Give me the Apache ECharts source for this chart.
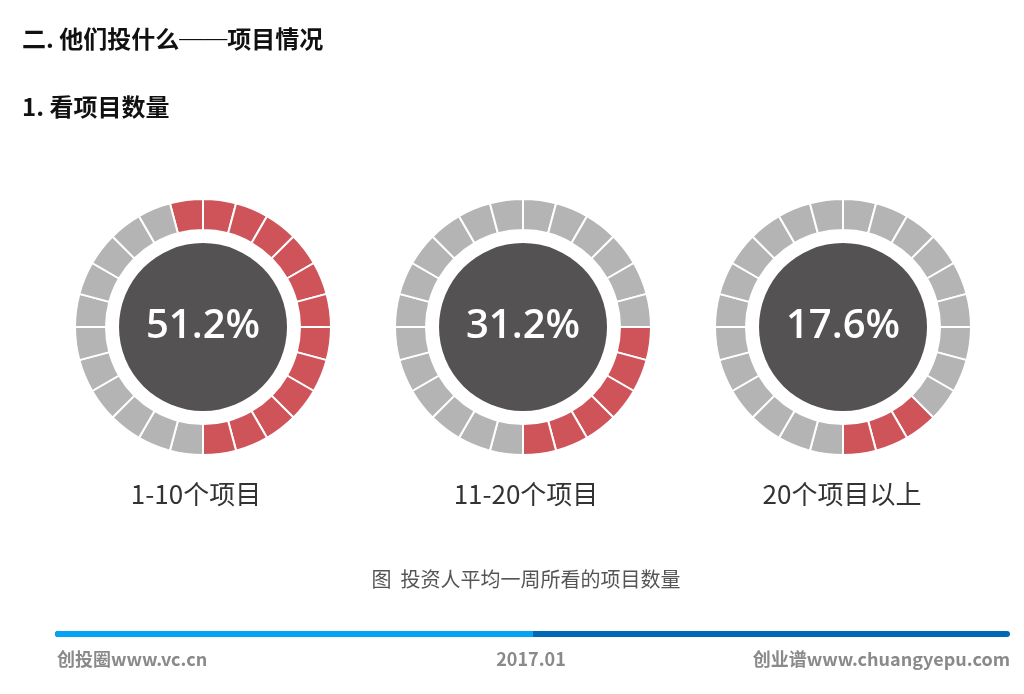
<!DOCTYPE html>
<html lang="zh">
<head>
  <meta charset="UTF-8">
  <title>看项目数量</title>
  <script src="https://cdn.jsdelivr.net/npm/echarts@6/dist/echarts.min.js"></script>
  <style>
    * { margin: 0; padding: 0; }
    body { background: #fff; }
    #main { width: 1024px; height: 694px; }
  </style>
</head>
<body>
  <div id="main"></div>
  <script>
    // 数据
    var categories = ['1-10个项目', '11-20个项目', '20个项目以上'];
    var percents = ['51.2%', '31.2%', '17.6%'];
    var redSegments = [13, 6, 3];   // 红色格子数
    var totalSegments = 24;         // 每个圆环的格子数

    // 布局
    var centersX = [203, 523, 843];
    var labelX = [191, 521, 837];

    var chart = echarts.init(document.getElementById('main'));
    var series = [];

    categories.forEach(function (name, i) {
      var ring = [];
      for (var k = 0; k < totalSegments; k++) {
        ring.push({
          value: 1,
          itemStyle: { color: k < redSegments[i] ? '#cf545a' : '#b4b4b4' }
        });
      }
      // 外圈格子，红色部分顺时针结束于正下方
      series.push({
        type: 'pie',
        silent: true,
        center: [centersX[i], 327],
        radius: [97, 128],
        startAngle: -90 + redSegments[i] * 360 / totalSegments,
        clockwise: true,
        label: { show: false },
        labelLine: { show: false },
        itemStyle: { borderColor: '#fff', borderWidth: 2 },
        data: ring
      });
      // 中间深色圆 + 百分比
      series.push({
        type: 'pie',
        silent: true,
        center: [centersX[i], 327],
        radius: [0, 84],
        label: {
          show: true,
          position: 'center',
          formatter: percents[i],
          color: '#fff',
          fontSize: 40,
          fontWeight: 600,
          fontFamily: 'Open Sans'
        },
        labelLine: { show: false },
        itemStyle: { color: '#545253' },
        data: [{ value: 1, name: name }]
      });
    });

    var headFont = {
      fontSize: 24, fontWeight: 'bold', color: '#111', fontFamily: 'Noto Sans CJK SC',
      rich: { d: { fontSize: 24, fontWeight: 'normal', color: '#111', fontFamily: 'Liberation Serif' } }
    };
    var footStyle = { fontSize: 18, fontWeight: 'bold', fill: '#8a8a8a', fontFamily: 'Noto Sans CJK SC' };

    var option = {
      animation: false,
      title: [
        { text: '二. 他们投什么{d|——}项目情况', left: 17, top: 22, textStyle: headFont },
        { text: '1. 看项目数量', left: 17, top: 90, textStyle: headFont }
      ].concat(categories.map(function (c, i) {
        return {
          text: c,
          left: labelX[i], top: 476,
          textAlign: 'center',
          textStyle: { fontSize: 26, fontWeight: 'normal', color: '#333', fontFamily: 'Noto Sans CJK SC' }
        };
      })).concat([
        {
          text: '图  投资人平均一周所看的项目数量',
          left: 521, top: 564,
          textAlign: 'center',
          textStyle: { fontSize: 20, fontWeight: 'normal', color: '#555', fontFamily: 'Noto Sans CJK SC' }
        }
      ]),
      graphic: [
        { type: 'rect', shape: { x: 55, y: 631, width: 955, height: 6, r: 3 }, style: { fill: '#0068b5' } },
        { type: 'rect', shape: { x: 55, y: 631, width: 478, height: 6, r: [3, 0, 0, 3] }, style: { fill: '#05a3f3' } },
        { type: 'text', x: 57, y: 650, style: Object.assign({ text: '创投圈www.vc.cn' }, footStyle) },
        { type: 'text', x: 531, y: 650, style: Object.assign({ text: '2017.01', align: 'center' }, footStyle) },
        { type: 'text', x: 1010, y: 650, style: Object.assign({ text: '创业谱www.chuangyepu.com', align: 'right' }, footStyle) }
      ],
      series: series
    };

    chart.setOption(option);
  </script>
</body>
</html>
